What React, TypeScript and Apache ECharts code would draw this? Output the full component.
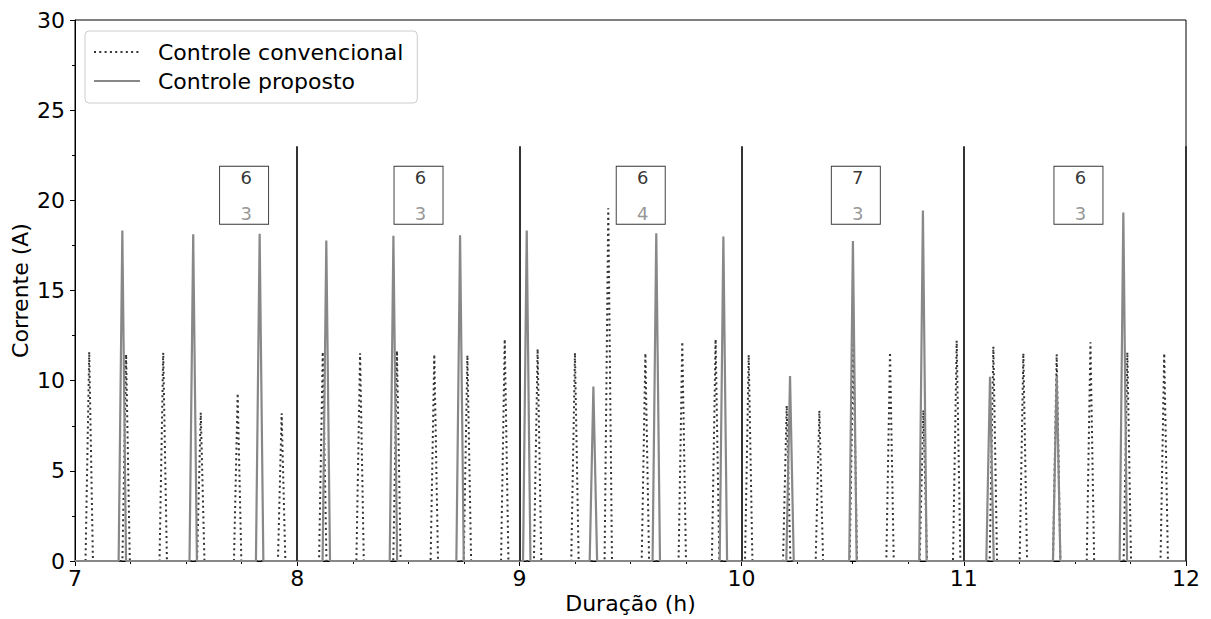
import React, { useEffect, useRef } from "react";
import * as echarts from "echarts";

// ---- Data ----
const convName = "Controle convencional";
const propName = "Controle proposto";

// Conventional control: peak times (h) and peak currents (A)
const convTimes = [
  7.064, 7.23, 7.397, 7.566, 7.732, 7.93,
  8.115, 8.283, 8.449, 8.617, 8.766, 8.934,
  9.082, 9.25, 9.4, 9.567, 9.733, 9.883,
  10.032, 10.203, 10.35, 10.503, 10.668, 10.818, 10.968,
  11.133, 11.268, 11.418, 11.57, 11.736, 11.902,
];
const convPeaks = [
  11.6, 11.46, 11.55, 8.23, 9.3, 8.19,
  11.6, 11.52, 11.65, 11.46, 11.41, 12.3,
  11.76, 11.55, 19.56, 11.52, 12.16, 12.3,
  11.43, 8.62, 8.34, 12.26, 11.57, 8.37, 12.22,
  11.89, 11.52, 11.46, 12.13, 11.57, 11.52,
];

// Proposed control: peak times (h) and peak currents (A)
const propTimes = [
  7.213, 7.532, 7.831,
  8.131, 8.433, 8.733,
  9.033, 9.333, 9.616, 9.918,
  10.218, 10.501, 10.816,
  11.118, 11.418, 11.718,
];
const propPeaks = [
  18.32, 18.12, 18.14,
  17.77, 18.04, 18.06,
  18.32, 9.67, 18.17, 17.99,
  10.26, 17.75, 19.43,
  10.22, 10.26, 19.32,
];

// Sampling step of the recorded signal (1 minute, in hours)
const sampleStep = 1 / 60;
const timeStart = 7;
const timeEnd = 12;

// Hour markers
const hourMarks = [8, 9, 10, 11, 12];
const hourMarkLevel = 23;

// Count annotations per hour
const boxHours = [7.761, 8.546, 9.546, 10.514, 11.516];
const boxLevel = 20.28;
const convCounts = [6, 6, 6, 7, 6];
const propCounts = [3, 3, 4, 3, 3];

const FONT = "DejaVu Sans";

function buildSignal(times: number[], peaks: number[]): number[][] {
  const pts: number[][] = [[timeStart, 0]];
  times.forEach((t, i) => {
    pts.push([t - sampleStep, 0], [t, peaks[i]], [t + sampleStep, 0]);
  });
  pts.push([timeEnd, 0]);
  return pts;
}

export default function App() {
  const ref = useRef<HTMLDivElement>(null);
  useEffect(() => {
    document.body.style.margin = "0";
    const chart = echarts.init(ref.current!, null, { renderer: "svg" });
    const option: any = {
      animation: false,
      backgroundColor: "#ffffff",
      textStyle: { fontFamily: FONT },
      grid: {
        left: 75,
        right: 25,
        top: 20,
        bottom: 58,
        outerBoundsMode: "none",
        containLabel: false,
        show: true,
        borderColor: "#000",
        borderWidth: 1,
        backgroundColor: "transparent",
      },
      legend: {
        data: [convName, propName],
        left: 85,
        top: 31,
        orient: "vertical",
        itemWidth: 46,
        itemHeight: 14,
        itemGap: 7,
        padding: [10, 14, 11, 8],
        backgroundColor: "rgba(255,255,255,0.8)",
        borderColor: "#cccccc",
        borderWidth: 1,
        borderRadius: 4,
        itemStyle: { opacity: 0 },
        lineStyle: { width: 2 },
        textStyle: {
          fontFamily: FONT,
          fontSize: 22,
          color: "#000",
          padding: [0, 0, 0, 13],
        },
      },
      xAxis: {
        type: "value",
        min: 7,
        max: 12,
        interval: 1,
        name: "Duração (h)",
        nameLocation: "middle",
        nameGap: 31,
        nameMoveOverlap: false,
        nameTextStyle: { fontFamily: FONT, fontSize: 22, color: "#000" },
        axisLine: { show: true, lineStyle: { color: "#000", width: 1 } },
        axisTick: { show: true, length: 5, lineStyle: { color: "#000", width: 1 } },
        minorTick: { show: true, splitNumber: 4, length: 3, lineStyle: { color: "#000", width: 1 } },
        splitLine: { show: false },
        minorSplitLine: { show: false },
        axisLabel: { fontFamily: FONT, fontSize: 22, color: "#000", margin: 6 },
      },
      yAxis: {
        type: "value",
        min: 0,
        max: 30,
        interval: 5,
        name: "Corrente (A)",
        nameLocation: "middle",
        nameGap: 44,
        nameMoveOverlap: false,
        nameTextStyle: { fontFamily: FONT, fontSize: 22, color: "#000" },
        axisLine: { show: true, lineStyle: { color: "#000", width: 1 } },
        axisTick: { show: true, length: 5, lineStyle: { color: "#000", width: 1 } },
        minorTick: { show: true, splitNumber: 2, length: 3, lineStyle: { color: "#000", width: 1 } },
        splitLine: { show: false },
        minorSplitLine: { show: false },
        axisLabel: { fontFamily: FONT, fontSize: 22, color: "#000", margin: 10 },
      },
      series: [
        {
          name: convName,
          type: "line",
          data: buildSignal(convTimes, convPeaks),
          showSymbol: false,
          symbol: "none",
          itemStyle: { color: "#333333" },
          lineStyle: { color: "#333333", width: 2, type: [2, 3.3], cap: "butt" },
          z: 2,
        },
        {
          name: propName,
          type: "line",
          data: buildSignal(propTimes, propPeaks),
          showSymbol: false,
          symbol: "none",
          itemStyle: { color: "#888888" },
          lineStyle: { color: "#888888", width: 2.2, type: "solid" },
          z: 3,
          markLine: {
            silent: true,
            symbol: ["none", "none"],
            label: { show: false },
            lineStyle: { color: "#333333", width: 2, type: "solid" },
            data: hourMarks.map((h) => [
              { coord: [h, 0] },
              { coord: [h, hourMarkLevel] },
            ]),
          },
        },
        {
          name: "counts",
          type: "scatter",
          silent: true,
          symbol: "rect",
          symbolSize: [49, 58],
          itemStyle: { color: "#ffffff", borderColor: "#000", borderWidth: 1 },
          data: boxHours.map((h) => [h, boxLevel]),
          z: 5,
          label: {
            show: true,
            position: "inside",
            offset: [2, 0],
            formatter: (p: any) =>
              `{a|${convCounts[p.dataIndex]}}\n{b|${propCounts[p.dataIndex]}}`,
            rich: {
              a: { fontFamily: FONT, fontSize: 18, color: "#000", lineHeight: 36 },
              b: { fontFamily: FONT, fontSize: 18, color: "#7a7a7a", lineHeight: 36 },
            },
          },
        },
      ],
    };
    chart.setOption(option);
    return () => chart.dispose();
  }, []);
  return <div ref={ref} style={{ width: 1211, height: 619 }} />;
}
